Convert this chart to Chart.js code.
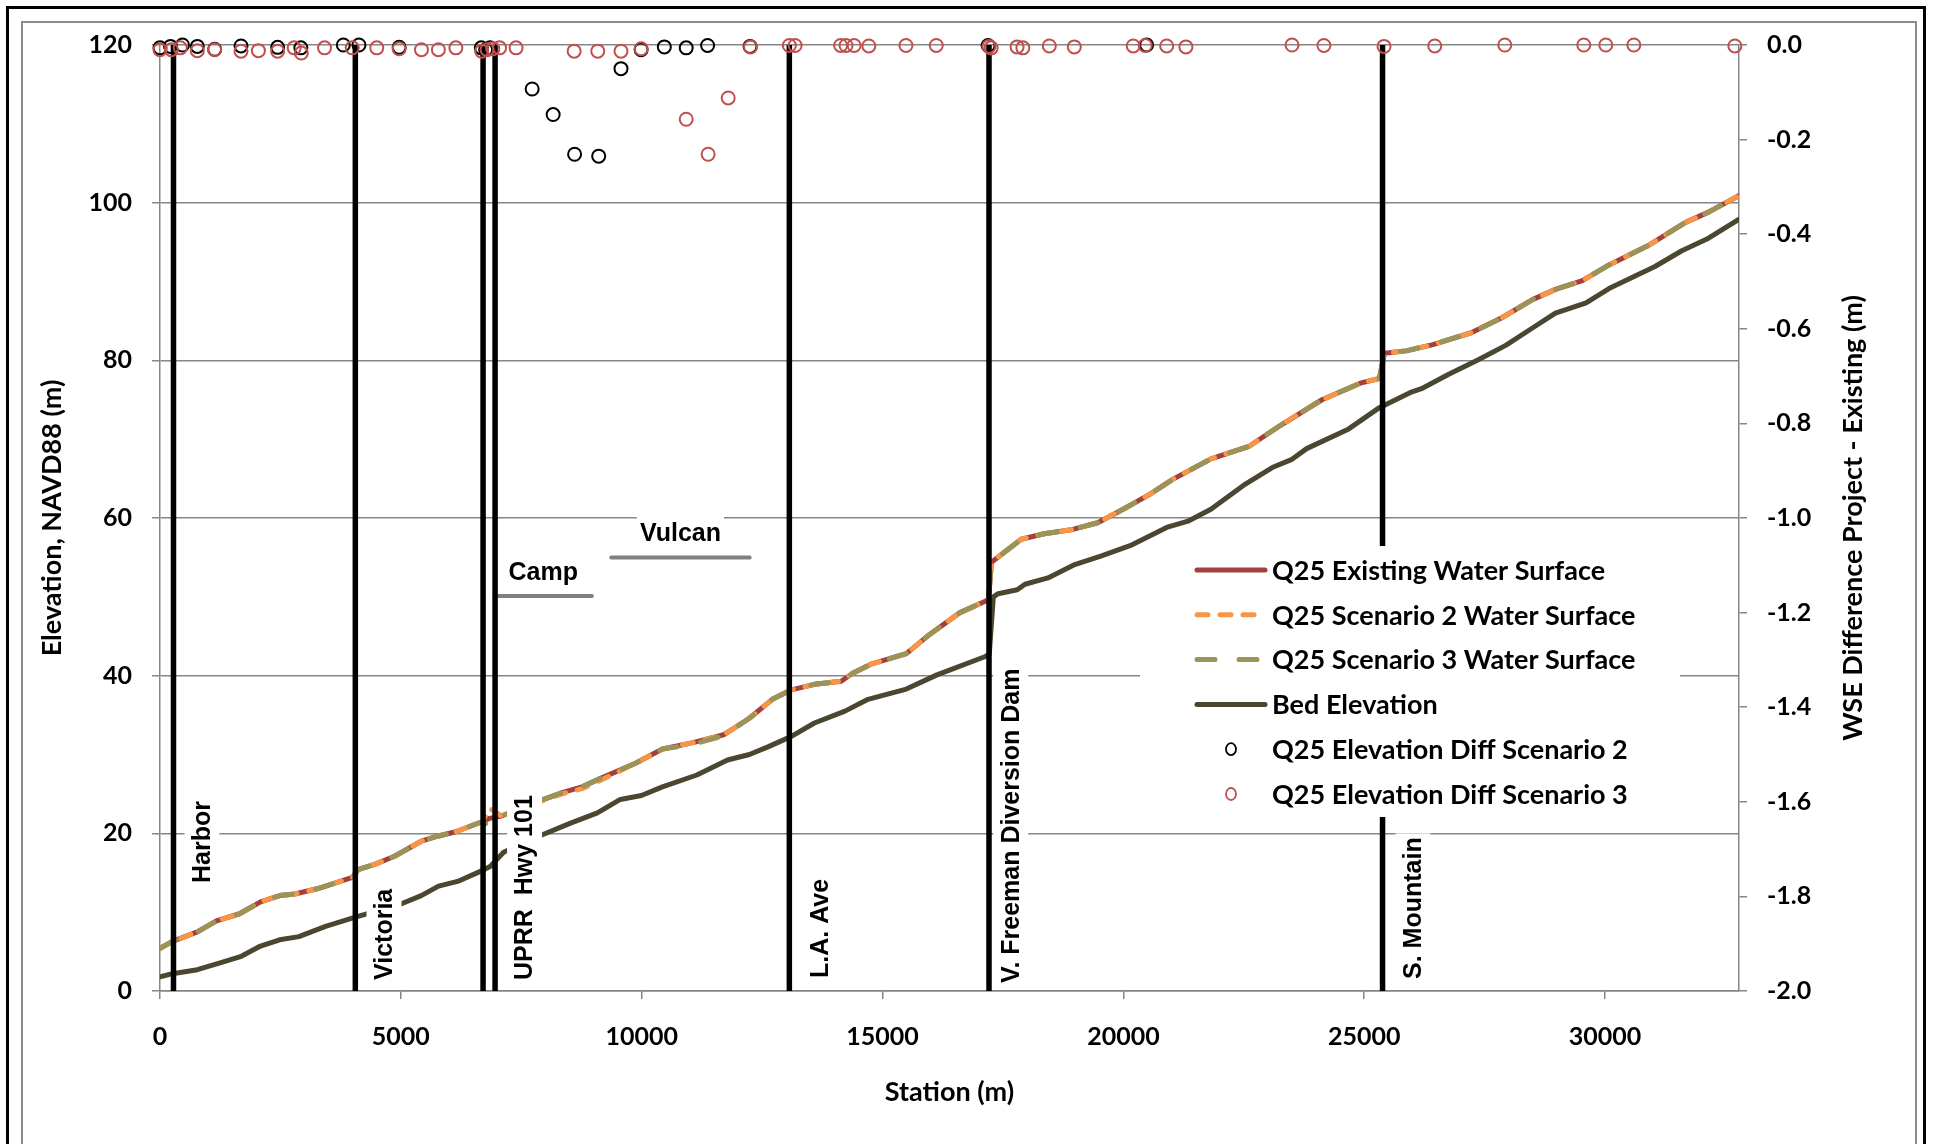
<!DOCTYPE html>
<html>
<head>
<meta charset="utf-8">
<script src="https://cdn.jsdelivr.net/npm/chart.js@4.4.1/dist/chart.umd.min.js"></script>
<style>
  html, body { margin: 0; padding: 0; background: #ffffff; overflow: hidden; }
  #wrap { position: relative; width: 1933px; height: 1144px; }
</style>
</head>
<body>
<div id="wrap"><canvas id="profile" width="1933" height="1144"></canvas></div>
<script>
// ---- Q25 water surface profiles (station in m, elevation in m NAVD88) ----
const wsStations = [0, 260, 775, 1173, 1651, 2087, 2484, 2801, 3279, 3993,
  4113, 4470, 4869, 5424, 5741, 6140, 6697, 6840, 7091, 7963,
  8364, 8762, 9159, 9873, 10430, 11065, 11700, 12236, 12712, 13108,
  13586, 14142, 14379, 14778, 15494, 15970, 16605, 17122, 17200, 17262,
  17878, 18354, 18910, 19467, 20023, 20546, 21024, 21817, 22611, 23248,
  24122, 24917, 25314, 25420, 25870, 26426, 27221, 27857, 28492, 28969,
  29527, 30081, 30876, 31671, 32147, 32784];
const wsExisting = [5.4, 6.3, 7.5, 8.9, 9.8, 11.3, 12.1, 12.3, 13.0, 14.4,
  15.4, 16.1, 17.1, 19.0, 19.6, 20.2, 21.5, 21.9, 22.2, 24.3,
  25.2, 25.9, 27.0, 28.9, 30.7, 31.5, 32.5, 34.6, 37.0, 38.2,
  38.9, 39.3, 40.3, 41.5, 42.8, 45.2, 48.0, 49.4, 49.7, 54.4,
  57.3, 58.0, 58.5, 59.4, 61.2, 63.0, 64.9, 67.5, 69.1, 71.7,
  75.0, 77.1, 77.7, 80.9, 81.2, 82.0, 83.5, 85.4, 87.7, 89.0,
  90.1, 92.1, 94.5, 97.5, 98.8, 100.9];
const wsScenario2 = [5.4, 6.3, 7.5, 8.9, 9.8, 11.3, 12.1, 12.3, 13.0, 14.4,
  15.4, 16.1, 17.1, 19.0, 19.6, 20.2, 21.5, 23.2, 22.2, 24.2,
  25.05, 25.67, 26.77, 28.89, 30.7, 31.5, 32.5, 34.6, 37.0, 38.2,
  38.9, 39.3, 40.3, 41.5, 42.8, 45.2, 48.0, 49.4, 49.7, 54.4,
  57.3, 58.0, 58.5, 59.4, 61.2, 63.0, 64.9, 67.5, 69.1, 71.7,
  75.0, 77.1, 77.7, 80.9, 81.2, 82.0, 83.5, 85.4, 87.7, 89.0,
  90.1, 92.1, 94.5, 97.5, 98.8, 100.9];
const wsScenario3 = [5.4, 6.3, 7.5, 8.9, 9.8, 11.3, 12.1, 12.3, 13.0, 14.4,
  15.4, 16.1, 17.1, 19.0, 19.6, 20.2, 21.5, 20.9, 22.2, 24.3,
  25.2, 25.9, 27.0, 28.9, 30.7, 31.3, 32.38, 34.6, 37.0, 38.2,
  38.9, 39.3, 40.3, 41.5, 42.8, 45.2, 48.0, 49.4, 49.7, 54.4,
  57.3, 58.0, 58.5, 59.4, 61.2, 63.0, 64.9, 67.5, 69.1, 71.7,
  75.0, 77.1, 77.7, 80.9, 81.2, 82.0, 83.5, 85.4, 87.7, 89.0,
  90.1, 92.1, 94.5, 97.5, 98.8, 100.9];

// ---- Channel bed ----
const bedStations = [0, 260, 775, 1212, 1688, 2087, 2484, 2882, 3437, 4074,
  4988, 5424, 5783, 6178, 6697, 6855, 7133, 7888, 8524, 9080,
  9556, 9994, 10430, 11146, 11782, 12236, 12633, 13108, 13586, 14221,
  14699, 15494, 16130, 17122, 17215, 17300, 17400, 17797, 17957, 18434,
  18990, 19546, 20181, 20898, 21341, 21817, 22533, 23090, 23487, 23804,
  24678, 25314, 25949, 26188, 26744, 27379, 27937, 28492, 28969, 29606,
  30081, 31036, 31593, 32147, 32784];
const bedElevation = [1.8, 2.2, 2.7, 3.5, 4.4, 5.7, 6.5, 6.9, 8.2, 9.4,
  11.0, 12.1, 13.3, 13.9, 15.3, 15.8, 17.6, 19.7, 21.3, 22.6,
  24.3, 24.8, 25.9, 27.4, 29.3, 30.0, 31.0, 32.3, 34.0, 35.5,
  37.0, 38.3, 40.1, 42.4, 42.7, 50.0, 50.4, 50.9, 51.6, 52.4,
  54.1, 55.2, 56.6, 58.8, 59.6, 61.1, 64.3, 66.4, 67.4, 68.8,
  71.3, 74.0, 75.9, 76.4, 78.2, 80.1, 81.9, 84.1, 86.0, 87.3,
  89.1, 91.9, 93.9, 95.5, 97.9];

// ---- WSE difference, project minus existing (m) ----
const diff2Stations = [0, 218, 467, 775, 1135, 1682, 2442, 2924, 3806, 4130,
  4965, 6670, 6760, 6850, 7726, 8162, 8607, 9107, 9570, 9988,
  10470, 10924, 11368, 12249, 17191, 20482];
const diff2Values = [-0.006, -0.003, 0.0, -0.003, -0.009, -0.002, -0.005, -0.006, 0.0, 0.0,
  -0.005, -0.006, -0.010, -0.006, -0.093, -0.147, -0.231, -0.235, -0.050, -0.010,
  -0.004, -0.006, -0.001, -0.003, -0.001, 0.0];
const diff3Stations = [0, 236, 421, 775, 1135, 1682, 2043, 2442, 2785, 2934,
  3416, 3991, 4500, 4965, 5428, 5779, 6142, 6678, 6790, 6910,
  7050, 7392, 8598, 9088, 9570, 9988, 10924, 11379, 11796, 12259,
  13065, 13185, 14130, 14242, 14410, 14716, 15486, 16115, 17209, 17255,
  17793, 17913, 18462, 18981, 20204, 20453, 20899, 21298, 23501, 24163,
  25411, 26464, 27918, 29558, 30015, 30597, 32694];
const diff3Values = [-0.010, -0.010, -0.006, -0.012, -0.010, -0.013, -0.012, -0.013, -0.006, -0.017,
  -0.006, -0.006, -0.006, -0.008, -0.010, -0.010, -0.006, -0.013, -0.010, -0.008,
  -0.006, -0.006, -0.013, -0.013, -0.013, -0.008, -0.157, -0.231, -0.112, -0.004,
  -0.001, -0.001, -0.001, -0.001, -0.001, -0.002, -0.001, -0.001, -0.003, -0.006,
  -0.004, -0.006, -0.002, -0.004, -0.002, -0.001, -0.002, -0.004, 0.0, -0.001,
  -0.003, -0.002, 0.0, 0.0, 0.0, 0.0, -0.002];

// ---- Crossings (vertical markers) and reach annotations ----
const bridgeNames = ['Harbor', 'Victoria', '', 'UPRR  Hwy 101', 'L.A. Ave', 'V. Freeman Diversion Dam', 'S. Mountain'];
const bridgeStations = [280, 4055, 6707, 6956, 13065, 17210, 25380];
const reachNames = ['Camp', 'Vulcan'];
const reachStart = [6944, 9369];
const reachEnd = [8966, 12240];
const reachElevation = [50.1, 55.0];

// ---- Axes ----
const stationMax = 32780;
const stationTicks = [0, 5000, 10000, 15000, 20000, 25000, 30000];
const elevTicks = [0, 20, 40, 60, 80, 100, 120];
const diffTicks = [-2.0, -1.8, -1.6, -1.4, -1.2, -1.0, -0.8, -0.6, -0.4, -0.2, 0.0];

const seriesNames = ['Q25 Existing Water Surface', 'Q25 Scenario 2 Water Surface', 'Q25 Scenario 3 Water Surface',
  'Bed Elevation', 'Q25 Elevation Diff Scenario 2', 'Q25 Elevation Diff Scenario 3'];

// ---- Styling ----
const COL = {
  existing: '#A3403B', scen2: '#F79646', scen3: '#9B9459', bed: '#4B4630',
  diff2: '#000000', diff3: '#C0504D', grid: '#868686', reach: '#808080'
};
const DASH2 = [11, 12];
const DASH3 = [18, 24];
const UI_FONT = 'Lato, "Open Sans", sans-serif';
const LABEL_FONT = '"Liberation Sans", Arial, sans-serif';

// label placement beside each crossing line (px offset from line, text start)
const bridgeLabelDx = [28.5, 28.7, 0, 29.5, 30.3, 21.7, 30.4];
const bridgeLabelBottom = [883, 980, 0, 980, 978, 983, 979];

const pts = (xs, ys) => xs.map((x, i) => ({ x: x, y: ys[i] }));

const datasets = [];
datasets.push({ label: seriesNames[5], type: 'scatter', data: pts(diff3Stations, diff3Values), yAxisID: 'y2',
  showLine: false, pointStyle: 'circle', pointRadius: 6.5, pointBorderWidth: 2,
  pointBorderColor: COL.diff3, pointBackgroundColor: 'rgba(0,0,0,0)', borderColor: COL.diff3, clip: false, order: 0 });
datasets.push({ label: seriesNames[4], type: 'scatter', data: pts(diff2Stations, diff2Values), yAxisID: 'y2',
  showLine: false, pointStyle: 'circle', pointRadius: 6.5, pointBorderWidth: 2,
  pointBorderColor: COL.diff2, pointBackgroundColor: 'rgba(0,0,0,0)', borderColor: COL.diff2, clip: false, order: 1 });
bridgeStations.forEach((s, i) => {
  datasets.push({ label: 'crossing ' + i, type: 'line', data: [{ x: s, y: 0 }, { x: s, y: 120 }], yAxisID: 'y',
    borderColor: '#000000', borderWidth: 5.5, pointRadius: 0, borderCapStyle: 'butt', clip: false, order: 2 });
});
datasets.push({ label: seriesNames[2], type: 'line', data: pts(wsStations, wsScenario3), yAxisID: 'y',
  borderColor: COL.scen3, borderWidth: 5, borderDash: DASH3, borderCapStyle: 'round', borderJoinStyle: 'round',
  pointRadius: 0, tension: 0, order: 3 });
datasets.push({ label: seriesNames[1], type: 'line', data: pts(wsStations, wsScenario2), yAxisID: 'y',
  borderColor: COL.scen2, borderWidth: 5, borderDash: DASH2, borderCapStyle: 'round', borderJoinStyle: 'round',
  pointRadius: 0, tension: 0, order: 4 });
datasets.push({ label: seriesNames[0], type: 'line', data: pts(wsStations, wsExisting), yAxisID: 'y',
  borderColor: COL.existing, borderWidth: 5, borderJoinStyle: 'round', borderCapStyle: 'round',
  pointRadius: 0, tension: 0, order: 5 });
datasets.push({ label: seriesNames[3], type: 'line', data: pts(bedStations, bedElevation), yAxisID: 'y',
  borderColor: COL.bed, borderWidth: 5, borderJoinStyle: 'round', borderCapStyle: 'round',
  pointRadius: 0, tension: 0, order: 6 });
reachNames.forEach((n, i) => {
  datasets.push({ label: n, type: 'line', data: [{ x: reachStart[i], y: reachElevation[i] }, { x: reachEnd[i], y: reachElevation[i] }],
    yAxisID: 'y', borderColor: COL.reach, borderWidth: 4, borderCapStyle: 'round', pointRadius: 0, order: 7 });
});

// white-backed text boxes: crossing names, reach names and the legend
const overlayPlugin = {
  id: 'overlay',
  afterDatasetsDraw(chart) {
    const ctx = chart.ctx;
    const xs = chart.scales.x, ys = chart.scales.y;
    ctx.save();
    // crossing names, rotated
    ctx.font = 'bold 25px ' + LABEL_FONT;
    bridgeNames.forEach((name, i) => {
      if (!name) return;
      const cx = xs.getPixelForValue(bridgeStations[i]) + bridgeLabelDx[i];
      const bottom = bridgeLabelBottom[i];
      const w = ctx.measureText(name).width;
      ctx.save();
      ctx.translate(cx, bottom);
      ctx.rotate(-Math.PI / 2);
      ctx.fillStyle = '#ffffff';
      ctx.fillRect(-4, -17.5, w + 8, 35);
      ctx.fillStyle = '#000000';
      ctx.textAlign = 'left';
      ctx.textBaseline = 'middle';
      ctx.fillText(name, 0, 1);
      ctx.restore();
    });
    // reach names above their bars
    reachNames.forEach((name, i) => {
      const cx = (xs.getPixelForValue(reachStart[i]) + xs.getPixelForValue(reachEnd[i])) / 2;
      const cy = ys.getPixelForValue(reachElevation[i]) - 23;
      const w = ctx.measureText(name).width;
      ctx.fillStyle = '#ffffff';
      ctx.fillRect(cx - w / 2 - 3, cy - 20, w + 6, 38);
      ctx.fillStyle = '#000000';
      ctx.textAlign = 'center';
      ctx.textBaseline = 'middle';
      ctx.fillText(name, cx, cy);
    });
    // legend
    const L = { x: 1140, y: 546, w: 540, h: 271, row0: 570, gap: 44.8, s0: 1197, s1: 1265, mx: 1231, tx: 1272 };
    ctx.fillStyle = '#ffffff';
    ctx.fillRect(L.x, L.y, L.w, L.h);
    const items = [
      { kind: 'line', color: COL.existing, dash: [] },
      { kind: 'line', color: COL.scen2, dash: DASH2 },
      { kind: 'line', color: COL.scen3, dash: DASH3 },
      { kind: 'line', color: COL.bed, dash: [] },
      { kind: 'dot', color: COL.diff2 },
      { kind: 'dot', color: COL.diff3 }
    ];
    ctx.font = 'bold 27px ' + UI_FONT;
    items.forEach((it, i) => {
      const y = L.row0 + i * L.gap;
      ctx.save();
      if (it.kind === 'line') {
        ctx.strokeStyle = it.color;
        ctx.lineWidth = 5;
        ctx.lineCap = 'round';
        ctx.setLineDash(it.dash);
        ctx.beginPath();
        ctx.moveTo(L.s0, y);
        ctx.lineTo(L.s1, y);
        ctx.stroke();
      } else {
        ctx.strokeStyle = it.color;
        ctx.lineWidth = 1.8;
        ctx.beginPath();
        ctx.ellipse(L.mx, y, 5, 6, 0, 0, Math.PI * 2);
        ctx.stroke();
      }
      ctx.restore();
      ctx.fillStyle = '#000000';
      ctx.textAlign = 'left';
      ctx.textBaseline = 'middle';
      ctx.fillText(seriesNames[i], L.tx, y + 1);
    });
    ctx.restore();
  },
  afterDraw(chart) {
    const ctx = chart.ctx;
    const a = chart.chartArea;
    ctx.save();
    // axis titles
    ctx.fillStyle = '#000000';
    ctx.font = 'bold 27px ' + UI_FONT;
    ctx.textAlign = 'center';
    ctx.textBaseline = 'middle';
    ctx.fillText('Station (m)', (a.left + a.right) / 2, 1092);
    ctx.save();
    ctx.translate(52, (a.top + a.bottom) / 2);
    ctx.rotate(-Math.PI / 2);
    ctx.fillText('Elevation, NAVD88 (m)', 0, 0);
    ctx.restore();
    ctx.save();
    ctx.translate(1853, (a.top + a.bottom) / 2);
    ctx.rotate(-Math.PI / 2);
    ctx.fillText('WSE Difference Project - Existing (m)', 0, 0);
    ctx.restore();
    // frames
    ctx.strokeStyle = '#8c8c8c';
    ctx.lineWidth = 2;
    ctx.strokeRect(22, 22, 1894, 1200);
    ctx.strokeStyle = '#000000';
    ctx.lineWidth = 3;
    ctx.strokeRect(7.5, 7.5, 1917, 1200);
    ctx.restore();
  }
};

const tickFont = { family: UI_FONT, size: 25, weight: 'bold' };

function build() {
  new Chart(document.getElementById('profile'), {
    type: 'line',
    data: { datasets: datasets },
    options: {
      responsive: false,
      animation: false,
      events: [],
      layout: { padding: { top: 45, left: 0, right: 0, bottom: 0 } },
      plugins: { legend: { display: false }, tooltip: { enabled: false } },
      scales: {
        x: {
          type: 'linear', position: 'bottom', min: 0, max: stationMax,
          afterFit: (s) => { s.height = 153; },
          afterBuildTicks: (s) => { s.ticks = stationTicks.map((v) => ({ value: v })); },
          ticks: { padding: 23, color: '#000000', font: tickFont, autoSkip: false,
            maxRotation: 0, minRotation: 0, callback: (v) => String(v) },
          grid: { drawOnChartArea: false, drawTicks: true, tickLength: 8, color: COL.grid, lineWidth: 1.5 },
          border: { color: COL.grid, width: 1.5 }
        },
        y: {
          type: 'linear', position: 'left', min: elevTicks[0], max: elevTicks[elevTicks.length - 1],
          afterFit: (s) => { s.width = 160; },
          afterBuildTicks: (s) => { s.ticks = elevTicks.map((v) => ({ value: v })); },
          ticks: { padding: 20, color: '#000000', font: tickFont, autoSkip: false, callback: (v) => String(v) },
          grid: { drawOnChartArea: true, drawTicks: true, tickLength: 8, color: COL.grid, lineWidth: 1.5 },
          border: { color: COL.grid, width: 1.5 }
        },
        y2: {
          type: 'linear', position: 'right', min: diffTicks[0], max: diffTicks[diffTicks.length - 1],
          afterFit: (s) => { s.width = 194; },
          afterBuildTicks: (s) => { s.ticks = diffTicks.map((v) => ({ value: v })); },
          ticks: { padding: 20, color: '#000000', font: tickFont, autoSkip: false, callback: (v) => Number(v).toFixed(1) },
          grid: { drawOnChartArea: false, drawTicks: true, tickLength: 8, color: COL.grid, lineWidth: 1.5 },
          border: { color: COL.grid, width: 1.5 }
        }
      }
    },
    plugins: [overlayPlugin]
  });
}

if (document.fonts && document.fonts.load) {
  Promise.all([
    document.fonts.load('bold 25px Lato'),
    document.fonts.load('bold 25px "Liberation Sans"')
  ]).then(build, build);
} else {
  build();
}
</script>
</body>
</html>
